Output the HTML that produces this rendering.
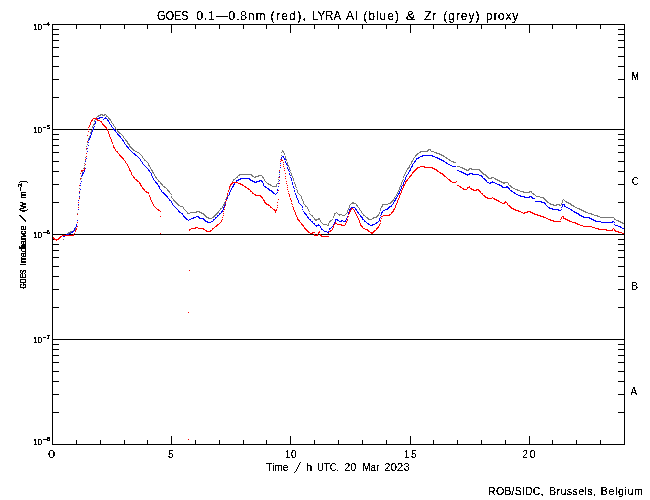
<!DOCTYPE html><html><head><meta charset="utf-8"><style>html,body{margin:0;padding:0;background:#fff;width:650px;height:500px;overflow:hidden}svg{display:block}text{font-family:"Liberation Sans",Arial,sans-serif;fill:#000}</style></head><body>
<svg width="650" height="500" viewBox="0 0 650 500">
<defs><filter id="k" filterUnits="userSpaceOnUse" x="0" y="0" width="650" height="500" color-interpolation-filters="sRGB"><feComponentTransfer><feFuncA type="discrete" tableValues="0 0 0 0 0 0 0 1 1 1 1 1 1 1 1 1 1 1 1 1"/></feComponentTransfer></filter><filter id="k2" filterUnits="userSpaceOnUse" x="0" y="0" width="650" height="500" color-interpolation-filters="sRGB"><feComponentTransfer><feFuncA type="discrete" tableValues="0 0 1 1 1 1 1 1 1 1"/></feComponentTransfer></filter><filter id="k3" filterUnits="userSpaceOnUse" x="0" y="0" width="650" height="500" color-interpolation-filters="sRGB"><feComponentTransfer><feFuncA type="discrete" tableValues="0 0 0 0 0 0 1 1 1 1"/></feComponentTransfer></filter></defs>
<rect width="650" height="500" fill="#fff"/>
<g stroke="#000" stroke-width="1" shape-rendering="crispEdges" fill="none">
<rect x="52.5" y="24.5" width="572" height="420"/>
<line x1="52" y1="129.5" x2="625" y2="129.5"/>
<line x1="52" y1="234.5" x2="625" y2="234.5"/>
<line x1="52" y1="339.5" x2="625" y2="339.5"/>
<line x1="52" y1="412.5" x2="59" y2="412.5"/>
<line x1="618" y1="412.5" x2="625" y2="412.5"/>
<line x1="52" y1="394.5" x2="59" y2="394.5"/>
<line x1="618" y1="394.5" x2="625" y2="394.5"/>
<line x1="52" y1="381.5" x2="59" y2="381.5"/>
<line x1="618" y1="381.5" x2="625" y2="381.5"/>
<line x1="52" y1="371.5" x2="59" y2="371.5"/>
<line x1="618" y1="371.5" x2="625" y2="371.5"/>
<line x1="52" y1="362.5" x2="59" y2="362.5"/>
<line x1="618" y1="362.5" x2="625" y2="362.5"/>
<line x1="52" y1="355.5" x2="59" y2="355.5"/>
<line x1="618" y1="355.5" x2="625" y2="355.5"/>
<line x1="52" y1="349.5" x2="59" y2="349.5"/>
<line x1="618" y1="349.5" x2="625" y2="349.5"/>
<line x1="52" y1="344.5" x2="59" y2="344.5"/>
<line x1="618" y1="344.5" x2="625" y2="344.5"/>
<line x1="52" y1="307.5" x2="59" y2="307.5"/>
<line x1="618" y1="307.5" x2="625" y2="307.5"/>
<line x1="52" y1="289.5" x2="59" y2="289.5"/>
<line x1="618" y1="289.5" x2="625" y2="289.5"/>
<line x1="52" y1="276.5" x2="59" y2="276.5"/>
<line x1="618" y1="276.5" x2="625" y2="276.5"/>
<line x1="52" y1="266.5" x2="59" y2="266.5"/>
<line x1="618" y1="266.5" x2="625" y2="266.5"/>
<line x1="52" y1="257.5" x2="59" y2="257.5"/>
<line x1="618" y1="257.5" x2="625" y2="257.5"/>
<line x1="52" y1="250.5" x2="59" y2="250.5"/>
<line x1="618" y1="250.5" x2="625" y2="250.5"/>
<line x1="52" y1="244.5" x2="59" y2="244.5"/>
<line x1="618" y1="244.5" x2="625" y2="244.5"/>
<line x1="52" y1="239.5" x2="59" y2="239.5"/>
<line x1="618" y1="239.5" x2="625" y2="239.5"/>
<line x1="52" y1="202.5" x2="59" y2="202.5"/>
<line x1="618" y1="202.5" x2="625" y2="202.5"/>
<line x1="52" y1="184.5" x2="59" y2="184.5"/>
<line x1="618" y1="184.5" x2="625" y2="184.5"/>
<line x1="52" y1="171.5" x2="59" y2="171.5"/>
<line x1="618" y1="171.5" x2="625" y2="171.5"/>
<line x1="52" y1="161.5" x2="59" y2="161.5"/>
<line x1="618" y1="161.5" x2="625" y2="161.5"/>
<line x1="52" y1="152.5" x2="59" y2="152.5"/>
<line x1="618" y1="152.5" x2="625" y2="152.5"/>
<line x1="52" y1="145.5" x2="59" y2="145.5"/>
<line x1="618" y1="145.5" x2="625" y2="145.5"/>
<line x1="52" y1="139.5" x2="59" y2="139.5"/>
<line x1="618" y1="139.5" x2="625" y2="139.5"/>
<line x1="52" y1="134.5" x2="59" y2="134.5"/>
<line x1="618" y1="134.5" x2="625" y2="134.5"/>
<line x1="52" y1="97.5" x2="59" y2="97.5"/>
<line x1="618" y1="97.5" x2="625" y2="97.5"/>
<line x1="52" y1="79.5" x2="59" y2="79.5"/>
<line x1="618" y1="79.5" x2="625" y2="79.5"/>
<line x1="52" y1="66.5" x2="59" y2="66.5"/>
<line x1="618" y1="66.5" x2="625" y2="66.5"/>
<line x1="52" y1="56.5" x2="59" y2="56.5"/>
<line x1="618" y1="56.5" x2="625" y2="56.5"/>
<line x1="52" y1="47.5" x2="59" y2="47.5"/>
<line x1="618" y1="47.5" x2="625" y2="47.5"/>
<line x1="52" y1="40.5" x2="59" y2="40.5"/>
<line x1="618" y1="40.5" x2="625" y2="40.5"/>
<line x1="52" y1="34.5" x2="59" y2="34.5"/>
<line x1="618" y1="34.5" x2="625" y2="34.5"/>
<line x1="52" y1="29.5" x2="59" y2="29.5"/>
<line x1="618" y1="29.5" x2="625" y2="29.5"/>
<line x1="76.5" y1="445" x2="76.5" y2="440"/>
<line x1="76.5" y1="24" x2="76.5" y2="29"/>
<line x1="100.5" y1="445" x2="100.5" y2="440"/>
<line x1="100.5" y1="24" x2="100.5" y2="29"/>
<line x1="124.5" y1="445" x2="124.5" y2="440"/>
<line x1="124.5" y1="24" x2="124.5" y2="29"/>
<line x1="147.5" y1="445" x2="147.5" y2="440"/>
<line x1="147.5" y1="24" x2="147.5" y2="29"/>
<line x1="171.5" y1="445" x2="171.5" y2="436"/>
<line x1="171.5" y1="24" x2="171.5" y2="33"/>
<line x1="195.5" y1="445" x2="195.5" y2="440"/>
<line x1="195.5" y1="24" x2="195.5" y2="29"/>
<line x1="219.5" y1="445" x2="219.5" y2="440"/>
<line x1="219.5" y1="24" x2="219.5" y2="29"/>
<line x1="243.5" y1="445" x2="243.5" y2="440"/>
<line x1="243.5" y1="24" x2="243.5" y2="29"/>
<line x1="266.5" y1="445" x2="266.5" y2="440"/>
<line x1="266.5" y1="24" x2="266.5" y2="29"/>
<line x1="290.5" y1="445" x2="290.5" y2="436"/>
<line x1="290.5" y1="24" x2="290.5" y2="33"/>
<line x1="314.5" y1="445" x2="314.5" y2="440"/>
<line x1="314.5" y1="24" x2="314.5" y2="29"/>
<line x1="338.5" y1="445" x2="338.5" y2="440"/>
<line x1="338.5" y1="24" x2="338.5" y2="29"/>
<line x1="362.5" y1="445" x2="362.5" y2="440"/>
<line x1="362.5" y1="24" x2="362.5" y2="29"/>
<line x1="386.5" y1="445" x2="386.5" y2="440"/>
<line x1="386.5" y1="24" x2="386.5" y2="29"/>
<line x1="410.5" y1="445" x2="410.5" y2="436"/>
<line x1="410.5" y1="24" x2="410.5" y2="33"/>
<line x1="433.5" y1="445" x2="433.5" y2="440"/>
<line x1="433.5" y1="24" x2="433.5" y2="29"/>
<line x1="457.5" y1="445" x2="457.5" y2="440"/>
<line x1="457.5" y1="24" x2="457.5" y2="29"/>
<line x1="481.5" y1="445" x2="481.5" y2="440"/>
<line x1="481.5" y1="24" x2="481.5" y2="29"/>
<line x1="505.5" y1="445" x2="505.5" y2="440"/>
<line x1="505.5" y1="24" x2="505.5" y2="29"/>
<line x1="529.5" y1="445" x2="529.5" y2="436"/>
<line x1="529.5" y1="24" x2="529.5" y2="33"/>
<line x1="552.5" y1="445" x2="552.5" y2="440"/>
<line x1="552.5" y1="24" x2="552.5" y2="29"/>
<line x1="576.5" y1="445" x2="576.5" y2="440"/>
<line x1="576.5" y1="24" x2="576.5" y2="29"/>
<line x1="600.5" y1="445" x2="600.5" y2="440"/>
<line x1="600.5" y1="24" x2="600.5" y2="29"/>
</g>
<path d="M63 239h1v1h-1zM67 233h1v1h-1zM68 232h1v1h-1zM68 233h1v1h-1zM69 232h1v1h-1zM70 231h1v1h-1zM70 232h1v1h-1zM71 231h1v1h-1zM72 231h1v1h-1zM73 230h1v1h-1zM73 231h1v1h-1zM74 229h1v1h-1zM74 230h1v1h-1zM75 227h1v1h-1zM75 228h1v1h-1zM75 229h1v1h-1zM76 224h1v1h-1zM76 225h1v1h-1zM77 213h1v1h-1zM77 220h1v1h-1zM77 222h1v1h-1zM78 200h1v1h-1zM78 205h1v1h-1zM79 188h1v1h-1zM79 193h1v1h-1zM79 197h1v1h-1zM80 179h1v1h-1zM80 183h1v1h-1zM81 175h1v1h-1zM81 176h1v1h-1zM81 178h1v1h-1zM82 171h1v1h-1zM82 172h1v1h-1zM82 174h1v1h-1zM83 168h1v1h-1zM83 170h1v1h-1zM84 163h1v1h-1zM84 165h1v1h-1zM84 167h1v1h-1zM85 157h1v1h-1zM85 160h1v1h-1zM86 146h1v1h-1zM86 149h1v1h-1zM86 153h1v1h-1zM87 142h1v1h-1zM87 144h1v1h-1zM88 138h1v1h-1zM88 139h1v1h-1zM88 140h1v1h-1zM89 136h1v1h-1zM89 137h1v1h-1zM90 132h1v1h-1zM90 133h1v1h-1zM90 135h1v1h-1zM91 130h1v1h-1zM91 131h1v1h-1zM92 126h1v1h-1zM92 127h1v1h-1zM92 129h1v1h-1zM93 124h1v1h-1zM93 125h1v1h-1zM94 120h1v1h-1zM94 121h1v1h-1zM94 123h1v1h-1zM95 119h1v1h-1zM96 117h1v1h-1zM96 118h1v1h-1zM97 116h1v1h-1zM98 115h1v1h-1zM98 116h1v1h-1zM99 115h1v1h-1zM100 114h1v1h-1zM100 115h1v1h-1zM101 114h1v1h-1zM102 114h1v1h-1zM102 115h1v1h-1zM103 115h1v1h-1zM104 114h1v1h-1zM104 115h1v1h-1zM105 114h1v1h-1zM106 115h1v1h-1zM106 116h1v1h-1zM107 116h1v1h-1zM108 117h1v1h-1zM108 118h1v1h-1zM109 118h1v1h-1zM109 119h1v1h-1zM110 119h1v1h-1zM110 120h1v1h-1zM111 121h1v1h-1zM111 122h1v1h-1zM112 123h1v1h-1zM113 124h1v1h-1zM113 125h1v1h-1zM114 126h1v1h-1zM115 127h1v1h-1zM115 128h1v1h-1zM116 129h1v1h-1zM117 130h1v1h-1zM117 131h1v1h-1zM118 131h1v1h-1zM118 132h1v1h-1zM119 132h1v1h-1zM119 133h1v1h-1zM120 133h1v1h-1zM121 134h1v1h-1zM122 135h1v1h-1zM123 136h1v1h-1zM123 137h1v1h-1zM124 138h1v1h-1zM125 139h1v1h-1zM125 140h1v1h-1zM126 140h1v1h-1zM126 141h1v1h-1zM127 141h1v1h-1zM127 142h1v1h-1zM127 143h1v1h-1zM128 143h1v1h-1zM128 144h1v1h-1zM129 144h1v1h-1zM129 145h1v1h-1zM129 146h1v1h-1zM130 146h1v1h-1zM130 147h1v1h-1zM131 147h1v1h-1zM131 148h1v1h-1zM132 148h1v1h-1zM132 149h1v1h-1zM133 149h1v1h-1zM133 150h1v1h-1zM134 150h1v1h-1zM135 151h1v1h-1zM136 151h1v1h-1zM137 152h1v1h-1zM138 152h1v1h-1zM139 153h1v1h-1zM140 154h1v1h-1zM141 155h1v1h-1zM142 156h1v1h-1zM142 157h1v1h-1zM143 158h1v1h-1zM144 159h1v1h-1zM144 160h1v1h-1zM145 160h1v1h-1zM146 161h1v1h-1zM147 162h1v1h-1zM148 163h1v1h-1zM148 164h1v1h-1zM148 165h1v1h-1zM149 165h1v1h-1zM149 166h1v1h-1zM150 167h1v1h-1zM150 168h1v1h-1zM151 169h1v1h-1zM151 170h1v1h-1zM152 170h1v1h-1zM152 171h1v1h-1zM152 172h1v1h-1zM153 172h1v1h-1zM153 173h1v1h-1zM154 174h1v1h-1zM154 175h1v1h-1zM155 176h1v1h-1zM155 177h1v1h-1zM156 177h1v1h-1zM156 178h1v1h-1zM157 179h1v1h-1zM158 180h1v1h-1zM158 181h1v1h-1zM159 181h1v1h-1zM160 182h1v1h-1zM160 183h1v1h-1zM161 183h1v1h-1zM161 184h1v1h-1zM162 184h1v1h-1zM162 185h1v1h-1zM163 186h1v1h-1zM164 186h1v1h-1zM164 187h1v1h-1zM165 187h1v1h-1zM166 188h1v1h-1zM167 189h1v1h-1zM167 190h1v1h-1zM168 190h1v1h-1zM168 191h1v1h-1zM169 191h1v1h-1zM169 192h1v1h-1zM170 193h1v1h-1zM171 194h1v1h-1zM171 196h1v1h-1zM171 197h1v1h-1zM172 198h1v1h-1zM173 199h1v1h-1zM173 200h1v1h-1zM174 200h1v1h-1zM174 201h1v1h-1zM175 201h1v1h-1zM175 202h1v1h-1zM176 202h1v1h-1zM176 203h1v1h-1zM177 203h1v1h-1zM177 204h1v1h-1zM178 204h1v1h-1zM178 205h1v1h-1zM179 205h1v1h-1zM180 206h1v1h-1zM181 206h1v1h-1zM182 206h1v1h-1zM183 207h1v1h-1zM183 208h1v1h-1zM184 209h1v1h-1zM185 210h1v1h-1zM186 211h1v1h-1zM187 212h1v1h-1zM187 213h1v1h-1zM188 213h1v1h-1zM189 213h1v1h-1zM190 212h1v1h-1zM191 212h1v1h-1zM192 212h1v1h-1zM193 212h1v1h-1zM194 212h1v1h-1zM195 212h1v1h-1zM196 211h1v1h-1zM196 212h1v1h-1zM197 211h1v1h-1zM198 211h1v1h-1zM199 211h1v1h-1zM199 212h1v1h-1zM200 212h1v1h-1zM201 212h1v1h-1zM201 213h1v1h-1zM202 213h1v1h-1zM203 213h1v1h-1zM203 214h1v1h-1zM204 214h1v1h-1zM204 215h1v1h-1zM205 215h1v1h-1zM205 216h1v1h-1zM206 216h1v1h-1zM206 217h1v1h-1zM207 217h1v1h-1zM208 217h1v1h-1zM208 218h1v1h-1zM209 218h1v1h-1zM210 218h1v1h-1zM211 218h1v1h-1zM212 217h1v1h-1zM213 216h1v1h-1zM213 217h1v1h-1zM214 215h1v1h-1zM214 216h1v1h-1zM215 214h1v1h-1zM215 215h1v1h-1zM216 213h1v1h-1zM216 214h1v1h-1zM217 212h1v1h-1zM217 213h1v1h-1zM218 211h1v1h-1zM218 212h1v1h-1zM219 210h1v1h-1zM220 208h1v1h-1zM220 209h1v1h-1zM221 208h1v1h-1zM222 206h1v1h-1zM222 207h1v1h-1zM223 204h1v1h-1zM223 205h1v1h-1zM224 202h1v1h-1zM224 203h1v1h-1zM224 204h1v1h-1zM225 199h1v1h-1zM225 201h1v1h-1zM226 197h1v1h-1zM226 198h1v1h-1zM227 193h1v1h-1zM227 194h1v1h-1zM227 195h1v1h-1zM228 190h1v1h-1zM228 191h1v1h-1zM229 187h1v1h-1zM229 188h1v1h-1zM229 189h1v1h-1zM230 185h1v1h-1zM230 186h1v1h-1zM231 183h1v1h-1zM231 184h1v1h-1zM232 181h1v1h-1zM232 182h1v1h-1zM233 179h1v1h-1zM233 180h1v1h-1zM234 179h1v1h-1zM235 178h1v1h-1zM236 177h1v1h-1zM237 176h1v1h-1zM237 177h1v1h-1zM238 175h1v1h-1zM239 174h1v1h-1zM239 175h1v1h-1zM240 174h1v1h-1zM241 174h1v1h-1zM242 174h1v1h-1zM243 174h1v1h-1zM244 174h1v1h-1zM245 174h1v1h-1zM246 174h1v1h-1zM247 174h1v1h-1zM248 174h1v1h-1zM249 174h1v1h-1zM250 174h1v1h-1zM251 174h1v1h-1zM251 175h1v1h-1zM252 175h1v1h-1zM252 176h1v1h-1zM253 176h1v1h-1zM254 177h1v1h-1zM255 176h1v1h-1zM255 177h1v1h-1zM256 176h1v1h-1zM257 176h1v1h-1zM258 175h1v1h-1zM258 176h1v1h-1zM259 175h1v1h-1zM260 175h1v1h-1zM261 175h1v1h-1zM262 176h1v1h-1zM262 177h1v1h-1zM263 177h1v1h-1zM263 178h1v1h-1zM264 179h1v1h-1zM264 180h1v1h-1zM265 181h1v1h-1zM266 182h1v1h-1zM267 183h1v1h-1zM268 183h1v1h-1zM268 184h1v1h-1zM269 184h1v1h-1zM270 184h1v1h-1zM270 185h1v1h-1zM271 185h1v1h-1zM272 186h1v1h-1zM273 186h1v1h-1zM274 186h1v1h-1zM275 186h1v1h-1zM276 184h1v1h-1zM276 185h1v1h-1zM276 186h1v1h-1zM277 183h1v1h-1zM278 177h1v1h-1zM278 179h1v1h-1zM278 181h1v1h-1zM279 171h1v1h-1zM279 174h1v1h-1zM280 159h1v1h-1zM280 163h1v1h-1zM280 167h1v1h-1zM281 152h1v1h-1zM281 155h1v1h-1zM282 150h1v1h-1zM282 151h1v1h-1zM283 151h1v1h-1zM283 152h1v1h-1zM284 153h1v1h-1zM284 154h1v1h-1zM285 156h1v1h-1zM285 157h1v1h-1zM285 158h1v1h-1zM286 159h1v1h-1zM286 160h1v1h-1zM287 162h1v1h-1zM287 163h1v1h-1zM287 164h1v1h-1zM288 165h1v1h-1zM288 166h1v1h-1zM289 167h1v1h-1zM289 168h1v1h-1zM289 169h1v1h-1zM290 170h1v1h-1zM290 172h1v1h-1zM291 173h1v1h-1zM291 174h1v1h-1zM291 175h1v1h-1zM292 176h1v1h-1zM292 177h1v1h-1zM293 178h1v1h-1zM293 179h1v1h-1zM293 180h1v1h-1zM294 182h1v1h-1zM294 183h1v1h-1zM295 184h1v1h-1zM295 185h1v1h-1zM295 186h1v1h-1zM296 187h1v1h-1zM296 189h1v1h-1zM297 190h1v1h-1zM297 191h1v1h-1zM297 192h1v1h-1zM298 193h1v1h-1zM299 194h1v1h-1zM300 195h1v1h-1zM301 196h1v1h-1zM301 197h1v1h-1zM301 198h1v1h-1zM302 199h1v1h-1zM302 200h1v1h-1zM303 201h1v1h-1zM303 202h1v1h-1zM303 203h1v1h-1zM304 204h1v1h-1zM305 205h1v1h-1zM305 206h1v1h-1zM306 206h1v1h-1zM307 207h1v1h-1zM307 208h1v1h-1zM308 209h1v1h-1zM308 210h1v1h-1zM309 211h1v1h-1zM309 213h1v1h-1zM310 214h1v1h-1zM311 215h1v1h-1zM312 215h1v1h-1zM312 216h1v1h-1zM313 217h1v1h-1zM314 218h1v1h-1zM314 219h1v1h-1zM315 219h1v1h-1zM315 220h1v1h-1zM316 219h1v1h-1zM316 220h1v1h-1zM317 219h1v1h-1zM318 218h1v1h-1zM318 219h1v1h-1zM319 218h1v1h-1zM319 219h1v1h-1zM320 220h1v1h-1zM320 221h1v1h-1zM321 222h1v1h-1zM322 223h1v1h-1zM323 224h1v1h-1zM324 224h1v1h-1zM325 224h1v1h-1zM326 224h1v1h-1zM327 225h1v1h-1zM328 223h1v1h-1zM328 224h1v1h-1zM328 225h1v1h-1zM329 221h1v1h-1zM329 222h1v1h-1zM330 220h1v1h-1zM330 221h1v1h-1zM331 220h1v1h-1zM332 219h1v1h-1zM333 216h1v1h-1zM333 217h1v1h-1zM334 213h1v1h-1zM334 214h1v1h-1zM334 215h1v1h-1zM335 213h1v1h-1zM336 212h1v1h-1zM337 213h1v1h-1zM338 214h1v1h-1zM339 214h1v1h-1zM339 215h1v1h-1zM340 214h1v1h-1zM341 214h1v1h-1zM342 215h1v1h-1zM343 215h1v1h-1zM344 215h1v1h-1zM345 214h1v1h-1zM346 213h1v1h-1zM347 210h1v1h-1zM347 211h1v1h-1zM347 212h1v1h-1zM348 208h1v1h-1zM348 209h1v1h-1zM349 205h1v1h-1zM349 206h1v1h-1zM349 207h1v1h-1zM350 204h1v1h-1zM351 203h1v1h-1zM352 202h1v1h-1zM352 203h1v1h-1zM353 202h1v1h-1zM353 203h1v1h-1zM354 203h1v1h-1zM355 203h1v1h-1zM356 204h1v1h-1zM356 205h1v1h-1zM357 205h1v1h-1zM357 206h1v1h-1zM358 207h1v1h-1zM359 208h1v1h-1zM359 209h1v1h-1zM360 210h1v1h-1zM361 211h1v1h-1zM361 212h1v1h-1zM362 213h1v1h-1zM363 214h1v1h-1zM363 215h1v1h-1zM364 215h1v1h-1zM365 216h1v1h-1zM366 217h1v1h-1zM367 217h1v1h-1zM367 218h1v1h-1zM368 218h1v1h-1zM368 219h1v1h-1zM369 219h1v1h-1zM370 219h1v1h-1zM371 219h1v1h-1zM372 218h1v1h-1zM373 217h1v1h-1zM373 218h1v1h-1zM374 217h1v1h-1zM375 217h1v1h-1zM376 216h1v1h-1zM376 217h1v1h-1zM377 215h1v1h-1zM377 216h1v1h-1zM378 214h1v1h-1zM378 215h1v1h-1zM379 212h1v1h-1zM379 213h1v1h-1zM380 208h1v1h-1zM380 209h1v1h-1zM380 210h1v1h-1zM381 206h1v1h-1zM381 207h1v1h-1zM382 204h1v1h-1zM382 205h1v1h-1zM382 206h1v1h-1zM383 204h1v1h-1zM384 204h1v1h-1zM385 204h1v1h-1zM386 204h1v1h-1zM387 204h1v1h-1zM388 203h1v1h-1zM389 203h1v1h-1zM390 202h1v1h-1zM390 203h1v1h-1zM391 201h1v1h-1zM391 202h1v1h-1zM392 200h1v1h-1zM392 201h1v1h-1zM393 199h1v1h-1zM393 200h1v1h-1zM394 197h1v1h-1zM394 198h1v1h-1zM395 196h1v1h-1zM396 194h1v1h-1zM396 195h1v1h-1zM397 192h1v1h-1zM397 193h1v1h-1zM398 190h1v1h-1zM398 191h1v1h-1zM399 187h1v1h-1zM399 188h1v1h-1zM399 189h1v1h-1zM400 185h1v1h-1zM400 186h1v1h-1zM401 182h1v1h-1zM401 183h1v1h-1zM401 184h1v1h-1zM402 180h1v1h-1zM402 181h1v1h-1zM403 176h1v1h-1zM403 177h1v1h-1zM403 179h1v1h-1zM404 174h1v1h-1zM404 175h1v1h-1zM405 172h1v1h-1zM405 173h1v1h-1zM406 170h1v1h-1zM406 171h1v1h-1zM407 168h1v1h-1zM407 169h1v1h-1zM408 167h1v1h-1zM408 168h1v1h-1zM409 165h1v1h-1zM409 166h1v1h-1zM409 167h1v1h-1zM410 164h1v1h-1zM411 161h1v1h-1zM411 162h1v1h-1zM411 163h1v1h-1zM412 160h1v1h-1zM412 161h1v1h-1zM413 158h1v1h-1zM413 159h1v1h-1zM414 157h1v1h-1zM415 155h1v1h-1zM415 156h1v1h-1zM416 154h1v1h-1zM416 155h1v1h-1zM417 153h1v1h-1zM417 154h1v1h-1zM418 153h1v1h-1zM419 152h1v1h-1zM420 151h1v1h-1zM420 152h1v1h-1zM421 151h1v1h-1zM422 151h1v1h-1zM423 151h1v1h-1zM424 151h1v1h-1zM425 151h1v1h-1zM426 151h1v1h-1zM427 150h1v1h-1zM427 151h1v1h-1zM428 149h1v1h-1zM428 150h1v1h-1zM429 149h1v1h-1zM430 149h1v1h-1zM430 150h1v1h-1zM431 151h1v1h-1zM432 151h1v1h-1zM433 151h1v1h-1zM434 152h1v1h-1zM435 152h1v1h-1zM436 152h1v1h-1zM436 153h1v1h-1zM437 153h1v1h-1zM438 153h1v1h-1zM439 153h1v1h-1zM439 154h1v1h-1zM440 154h1v1h-1zM441 154h1v1h-1zM441 155h1v1h-1zM442 155h1v1h-1zM443 155h1v1h-1zM443 156h1v1h-1zM444 156h1v1h-1zM445 157h1v1h-1zM446 157h1v1h-1zM446 158h1v1h-1zM447 158h1v1h-1zM448 159h1v1h-1zM449 159h1v1h-1zM449 160h1v1h-1zM450 160h1v1h-1zM451 161h1v1h-1zM452 161h1v1h-1zM453 161h1v1h-1zM453 162h1v1h-1zM454 162h1v1h-1zM455 162h1v1h-1zM457 166h1v1h-1zM458 166h1v1h-1zM459 166h1v1h-1zM460 167h1v1h-1zM461 167h1v1h-1zM462 167h1v1h-1zM462 168h1v1h-1zM463 168h1v1h-1zM464 168h1v1h-1zM464 169h1v1h-1zM465 169h1v1h-1zM466 169h1v1h-1zM466 170h1v1h-1zM467 170h1v1h-1zM468 169h1v1h-1zM468 170h1v1h-1zM469 168h1v1h-1zM469 169h1v1h-1zM470 168h1v1h-1zM471 168h1v1h-1zM471 169h1v1h-1zM472 169h1v1h-1zM473 169h1v1h-1zM474 169h1v1h-1zM475 169h1v1h-1zM476 169h1v1h-1zM477 169h1v1h-1zM478 169h1v1h-1zM479 169h1v1h-1zM479 170h1v1h-1zM480 170h1v1h-1zM480 171h1v1h-1zM481 171h1v1h-1zM481 172h1v1h-1zM482 172h1v1h-1zM482 173h1v1h-1zM483 173h1v1h-1zM483 174h1v1h-1zM484 174h1v1h-1zM485 174h1v1h-1zM485 175h1v1h-1zM486 175h1v1h-1zM486 176h1v1h-1zM487 176h1v1h-1zM487 177h1v1h-1zM488 177h1v1h-1zM488 178h1v1h-1zM489 178h1v1h-1zM490 178h1v1h-1zM491 177h1v1h-1zM491 178h1v1h-1zM492 177h1v1h-1zM493 177h1v1h-1zM494 178h1v1h-1zM495 178h1v1h-1zM495 179h1v1h-1zM496 179h1v1h-1zM497 179h1v1h-1zM497 180h1v1h-1zM498 180h1v1h-1zM499 180h1v1h-1zM499 181h1v1h-1zM500 181h1v1h-1zM501 181h1v1h-1zM501 182h1v1h-1zM502 182h1v1h-1zM503 182h1v1h-1zM503 183h1v1h-1zM504 182h1v1h-1zM504 183h1v1h-1zM505 182h1v1h-1zM506 182h1v1h-1zM507 182h1v1h-1zM508 183h1v1h-1zM508 184h1v1h-1zM509 185h1v1h-1zM510 185h1v1h-1zM510 186h1v1h-1zM511 186h1v1h-1zM511 187h1v1h-1zM512 187h1v1h-1zM513 188h1v1h-1zM514 188h1v1h-1zM515 189h1v1h-1zM516 189h1v1h-1zM517 189h1v1h-1zM517 190h1v1h-1zM518 190h1v1h-1zM519 190h1v1h-1zM520 191h1v1h-1zM521 191h1v1h-1zM522 191h1v1h-1zM523 191h1v1h-1zM523 192h1v1h-1zM524 192h1v1h-1zM525 192h1v1h-1zM526 192h1v1h-1zM527 192h1v1h-1zM528 192h1v1h-1zM529 191h1v1h-1zM529 192h1v1h-1zM530 191h1v1h-1zM531 191h1v1h-1zM531 192h1v1h-1zM532 193h1v1h-1zM533 193h1v1h-1zM533 194h1v1h-1zM534 194h1v1h-1zM535 195h1v1h-1zM536 196h1v1h-1zM537 196h1v1h-1zM538 196h1v1h-1zM539 196h1v1h-1zM540 197h1v1h-1zM541 197h1v1h-1zM542 197h1v1h-1zM543 197h1v1h-1zM543 198h1v1h-1zM544 198h1v1h-1zM544 199h1v1h-1zM545 199h1v1h-1zM545 200h1v1h-1zM546 200h1v1h-1zM546 201h1v1h-1zM547 201h1v1h-1zM547 202h1v1h-1zM548 202h1v1h-1zM549 203h1v1h-1zM550 203h1v1h-1zM550 204h1v1h-1zM551 204h1v1h-1zM552 204h1v1h-1zM553 204h1v1h-1zM553 205h1v1h-1zM554 205h1v1h-1zM555 205h1v1h-1zM556 204h1v1h-1zM556 205h1v1h-1zM557 204h1v1h-1zM558 204h1v1h-1zM559 204h1v1h-1zM559 205h1v1h-1zM560 205h1v1h-1zM561 203h1v1h-1zM561 204h1v1h-1zM562 200h1v1h-1zM562 201h1v1h-1zM562 202h1v1h-1zM563 199h1v1h-1zM564 200h1v1h-1zM565 201h1v1h-1zM566 201h1v1h-1zM566 202h1v1h-1zM567 202h1v1h-1zM568 202h1v1h-1zM568 203h1v1h-1zM569 203h1v1h-1zM570 203h1v1h-1zM570 204h1v1h-1zM571 204h1v1h-1zM571 205h1v1h-1zM572 205h1v1h-1zM573 205h1v1h-1zM573 206h1v1h-1zM574 206h1v1h-1zM575 207h1v1h-1zM576 207h1v1h-1zM577 208h1v1h-1zM578 208h1v1h-1zM579 208h1v1h-1zM579 209h1v1h-1zM580 209h1v1h-1zM581 209h1v1h-1zM581 210h1v1h-1zM582 210h1v1h-1zM583 210h1v1h-1zM583 211h1v1h-1zM584 211h1v1h-1zM585 211h1v1h-1zM585 212h1v1h-1zM586 212h1v1h-1zM587 212h1v1h-1zM588 213h1v1h-1zM589 213h1v1h-1zM590 213h1v1h-1zM591 213h1v1h-1zM591 214h1v1h-1zM592 214h1v1h-1zM593 214h1v1h-1zM594 215h1v1h-1zM595 215h1v1h-1zM596 215h1v1h-1zM597 215h1v1h-1zM597 216h1v1h-1zM598 216h1v1h-1zM599 216h1v1h-1zM600 217h1v1h-1zM601 217h1v1h-1zM602 217h1v1h-1zM603 217h1v1h-1zM604 217h1v1h-1zM605 217h1v1h-1zM606 217h1v1h-1zM607 217h1v1h-1zM608 217h1v1h-1zM609 217h1v1h-1zM610 217h1v1h-1zM611 217h1v1h-1zM612 217h1v1h-1zM613 217h1v1h-1zM614 218h1v1h-1zM614 219h1v1h-1zM615 219h1v1h-1zM616 220h1v1h-1zM617 220h1v1h-1zM618 220h1v1h-1zM618 221h1v1h-1zM619 221h1v1h-1zM620 221h1v1h-1zM620 222h1v1h-1zM621 222h1v1h-1zM622 222h1v1h-1zM622 223h1v1h-1zM623 223h1v1h-1z" fill="#787878" shape-rendering="crispEdges"/>
<path d="M62 235h1v1h-1zM63 236h1v1h-1zM64 235h1v1h-1zM64 236h1v1h-1zM65 235h1v1h-1zM66 234h1v1h-1zM66 235h1v1h-1zM67 234h1v1h-1zM68 234h1v1h-1zM69 233h1v1h-1zM70 233h1v1h-1zM71 232h1v1h-1zM72 231h1v1h-1zM72 232h1v1h-1zM73 231h1v1h-1zM74 228h1v1h-1zM74 229h1v1h-1zM74 230h1v1h-1zM75 227h1v1h-1zM76 224h1v1h-1zM76 225h1v1h-1zM76 226h1v1h-1zM77 214h1v1h-1zM77 220h1v1h-1zM78 200h1v1h-1zM78 204h1v1h-1zM78 209h1v1h-1zM79 192h1v1h-1zM79 196h1v1h-1zM80 183h1v1h-1zM80 185h1v1h-1zM80 189h1v1h-1zM81 176h1v1h-1zM81 181h1v1h-1zM82 173h1v1h-1zM82 174h1v1h-1zM82 175h1v1h-1zM83 172h1v1h-1zM83 173h1v1h-1zM84 170h1v1h-1zM84 171h1v1h-1zM85 161h1v1h-1zM85 168h1v1h-1zM86 153h1v1h-1zM86 156h1v1h-1zM86 158h1v1h-1zM87 148h1v1h-1zM87 151h1v1h-1zM88 140h1v1h-1zM88 142h1v1h-1zM88 145h1v1h-1zM89 138h1v1h-1zM89 139h1v1h-1zM90 135h1v1h-1zM90 136h1v1h-1zM90 137h1v1h-1zM91 132h1v1h-1zM91 133h1v1h-1zM91 134h1v1h-1zM92 130h1v1h-1zM92 131h1v1h-1zM93 127h1v1h-1zM93 128h1v1h-1zM93 129h1v1h-1zM94 124h1v1h-1zM94 126h1v1h-1zM95 121h1v1h-1zM95 122h1v1h-1zM95 123h1v1h-1zM96 119h1v1h-1zM97 118h1v1h-1zM97 119h1v1h-1zM98 118h1v1h-1zM99 117h1v1h-1zM99 118h1v1h-1zM100 117h1v1h-1zM101 117h1v1h-1zM102 117h1v1h-1zM103 119h1v1h-1zM104 118h1v1h-1zM105 117h1v1h-1zM105 118h1v1h-1zM106 118h1v1h-1zM107 119h1v1h-1zM107 120h1v1h-1zM108 120h1v1h-1zM108 121h1v1h-1zM109 122h1v1h-1zM109 123h1v1h-1zM110 124h1v1h-1zM111 125h1v1h-1zM111 126h1v1h-1zM112 127h1v1h-1zM113 128h1v1h-1zM113 129h1v1h-1zM114 129h1v1h-1zM114 130h1v1h-1zM115 130h1v1h-1zM115 131h1v1h-1zM116 132h1v1h-1zM117 133h1v1h-1zM117 134h1v1h-1zM118 134h1v1h-1zM118 135h1v1h-1zM119 135h1v1h-1zM119 136h1v1h-1zM120 136h1v1h-1zM120 137h1v1h-1zM121 138h1v1h-1zM122 139h1v1h-1zM122 140h1v1h-1zM123 140h1v1h-1zM123 141h1v1h-1zM124 142h1v1h-1zM124 143h1v1h-1zM125 144h1v1h-1zM126 145h1v1h-1zM126 146h1v1h-1zM127 146h1v1h-1zM127 147h1v1h-1zM128 147h1v1h-1zM128 148h1v1h-1zM129 149h1v1h-1zM130 150h1v1h-1zM131 151h1v1h-1zM132 152h1v1h-1zM133 153h1v1h-1zM134 153h1v1h-1zM134 154h1v1h-1zM135 154h1v1h-1zM135 155h1v1h-1zM136 155h1v1h-1zM137 156h1v1h-1zM138 157h1v1h-1zM139 158h1v1h-1zM140 159h1v1h-1zM140 160h1v1h-1zM141 161h1v1h-1zM142 162h1v1h-1zM142 163h1v1h-1zM143 164h1v1h-1zM144 165h1v1h-1zM145 166h1v1h-1zM146 167h1v1h-1zM147 168h1v1h-1zM148 169h1v1h-1zM148 170h1v1h-1zM149 170h1v1h-1zM149 171h1v1h-1zM150 172h1v1h-1zM151 173h1v1h-1zM151 174h1v1h-1zM151 175h1v1h-1zM152 176h1v1h-1zM152 177h1v1h-1zM153 178h1v1h-1zM153 179h1v1h-1zM154 180h1v1h-1zM155 181h1v1h-1zM155 182h1v1h-1zM156 182h1v1h-1zM156 183h1v1h-1zM157 183h1v1h-1zM157 184h1v1h-1zM158 185h1v1h-1zM158 186h1v1h-1zM159 186h1v1h-1zM159 187h1v1h-1zM159 188h1v1h-1zM160 189h1v1h-1zM161 190h1v1h-1zM161 191h1v1h-1zM162 192h1v1h-1zM163 192h1v1h-1zM163 193h1v1h-1zM164 193h1v1h-1zM164 194h1v1h-1zM165 194h1v1h-1zM165 195h1v1h-1zM166 195h1v1h-1zM166 196h1v1h-1zM167 196h1v1h-1zM167 197h1v1h-1zM168 198h1v1h-1zM169 199h1v1h-1zM169 200h1v1h-1zM170 200h1v1h-1zM171 201h1v1h-1zM171 202h1v1h-1zM172 203h1v1h-1zM172 204h1v1h-1zM173 205h1v1h-1zM174 206h1v1h-1zM175 207h1v1h-1zM176 208h1v1h-1zM177 209h1v1h-1zM178 210h1v1h-1zM178 211h1v1h-1zM179 211h1v1h-1zM179 212h1v1h-1zM180 212h1v1h-1zM181 213h1v1h-1zM182 213h1v1h-1zM182 214h1v1h-1zM183 215h1v1h-1zM183 216h1v1h-1zM184 216h1v1h-1zM184 217h1v1h-1zM185 217h1v1h-1zM185 218h1v1h-1zM186 218h1v1h-1zM186 219h1v1h-1zM187 219h1v1h-1zM188 220h1v1h-1zM189 219h1v1h-1zM190 219h1v1h-1zM191 218h1v1h-1zM192 218h1v1h-1zM193 217h1v1h-1zM193 218h1v1h-1zM194 217h1v1h-1zM195 217h1v1h-1zM196 216h1v1h-1zM197 216h1v1h-1zM198 216h1v1h-1zM198 217h1v1h-1zM199 217h1v1h-1zM199 218h1v1h-1zM200 218h1v1h-1zM201 218h1v1h-1zM202 218h1v1h-1zM203 218h1v1h-1zM203 219h1v1h-1zM204 219h1v1h-1zM204 220h1v1h-1zM205 220h1v1h-1zM205 221h1v1h-1zM206 221h1v1h-1zM207 221h1v1h-1zM207 222h1v1h-1zM208 222h1v1h-1zM209 222h1v1h-1zM210 222h1v1h-1zM211 221h1v1h-1zM212 221h1v1h-1zM213 219h1v1h-1zM213 220h1v1h-1zM214 219h1v1h-1zM215 217h1v1h-1zM215 218h1v1h-1zM216 217h1v1h-1zM217 215h1v1h-1zM217 216h1v1h-1zM218 215h1v1h-1zM219 213h1v1h-1zM219 214h1v1h-1zM220 213h1v1h-1zM221 211h1v1h-1zM221 212h1v1h-1zM222 210h1v1h-1zM222 211h1v1h-1zM223 207h1v1h-1zM223 208h1v1h-1zM223 209h1v1h-1zM224 205h1v1h-1zM224 206h1v1h-1zM225 201h1v1h-1zM225 202h1v1h-1zM225 204h1v1h-1zM226 198h1v1h-1zM226 199h1v1h-1zM227 196h1v1h-1zM227 197h1v1h-1zM227 198h1v1h-1zM228 195h1v1h-1zM229 192h1v1h-1zM229 193h1v1h-1zM229 194h1v1h-1zM230 190h1v1h-1zM230 191h1v1h-1zM231 188h1v1h-1zM231 189h1v1h-1zM232 186h1v1h-1zM232 187h1v1h-1zM233 184h1v1h-1zM233 185h1v1h-1zM233 186h1v1h-1zM234 183h1v1h-1zM234 184h1v1h-1zM235 182h1v1h-1zM236 180h1v1h-1zM236 181h1v1h-1zM237 180h1v1h-1zM238 179h1v1h-1zM238 180h1v1h-1zM239 179h1v1h-1zM240 178h1v1h-1zM240 179h1v1h-1zM241 178h1v1h-1zM242 178h1v1h-1zM243 178h1v1h-1zM244 178h1v1h-1zM245 178h1v1h-1zM246 178h1v1h-1zM247 178h1v1h-1zM248 178h1v1h-1zM249 178h1v1h-1zM249 179h1v1h-1zM250 179h1v1h-1zM250 180h1v1h-1zM251 180h1v1h-1zM252 180h1v1h-1zM252 181h1v1h-1zM253 181h1v1h-1zM254 181h1v1h-1zM254 182h1v1h-1zM255 182h1v1h-1zM256 181h1v1h-1zM256 182h1v1h-1zM257 181h1v1h-1zM258 181h1v1h-1zM259 180h1v1h-1zM259 181h1v1h-1zM260 180h1v1h-1zM261 180h1v1h-1zM261 181h1v1h-1zM262 181h1v1h-1zM262 182h1v1h-1zM263 183h1v1h-1zM263 184h1v1h-1zM263 185h1v1h-1zM264 186h1v1h-1zM265 186h1v1h-1zM265 187h1v1h-1zM266 187h1v1h-1zM267 188h1v1h-1zM268 188h1v1h-1zM268 189h1v1h-1zM269 189h1v1h-1zM269 190h1v1h-1zM270 190h1v1h-1zM271 190h1v1h-1zM271 191h1v1h-1zM272 191h1v1h-1zM272 192h1v1h-1zM273 192h1v1h-1zM273 193h1v1h-1zM274 193h1v1h-1zM275 194h1v1h-1zM276 193h1v1h-1zM277 189h1v1h-1zM277 190h1v1h-1zM277 192h1v1h-1zM278 183h1v1h-1zM278 186h1v1h-1zM279 172h1v1h-1zM279 176h1v1h-1zM279 180h1v1h-1zM280 163h1v1h-1zM280 167h1v1h-1zM281 157h1v1h-1zM281 158h1v1h-1zM281 160h1v1h-1zM282 156h1v1h-1zM283 156h1v1h-1zM283 157h1v1h-1zM284 158h1v1h-1zM284 159h1v1h-1zM285 159h1v1h-1zM285 161h1v1h-1zM285 162h1v1h-1zM286 163h1v1h-1zM286 164h1v1h-1zM287 165h1v1h-1zM287 167h1v1h-1zM287 168h1v1h-1zM288 169h1v1h-1zM288 170h1v1h-1zM289 171h1v1h-1zM289 173h1v1h-1zM289 174h1v1h-1zM290 175h1v1h-1zM290 177h1v1h-1zM291 178h1v1h-1zM291 179h1v1h-1zM291 180h1v1h-1zM292 182h1v1h-1zM292 183h1v1h-1zM292 184h1v1h-1zM293 186h1v1h-1zM293 187h1v1h-1zM294 188h1v1h-1zM294 190h1v1h-1zM294 191h1v1h-1zM295 193h1v1h-1zM295 194h1v1h-1zM296 195h1v1h-1zM296 196h1v1h-1zM296 197h1v1h-1zM297 198h1v1h-1zM297 199h1v1h-1zM298 200h1v1h-1zM298 201h1v1h-1zM298 202h1v1h-1zM299 203h1v1h-1zM300 204h1v1h-1zM301 205h1v1h-1zM302 206h1v1h-1zM302 207h1v1h-1zM302 209h1v1h-1zM303 211h1v1h-1zM304 212h1v1h-1zM304 213h1v1h-1zM305 213h1v1h-1zM305 214h1v1h-1zM306 214h1v1h-1zM306 215h1v1h-1zM307 216h1v1h-1zM307 217h1v1h-1zM308 217h1v1h-1zM308 218h1v1h-1zM309 219h1v1h-1zM310 219h1v1h-1zM310 220h1v1h-1zM311 221h1v1h-1zM312 221h1v1h-1zM312 222h1v1h-1zM313 223h1v1h-1zM314 223h1v1h-1zM314 224h1v1h-1zM315 225h1v1h-1zM316 225h1v1h-1zM316 226h1v1h-1zM317 225h1v1h-1zM318 224h1v1h-1zM318 225h1v1h-1zM319 225h1v1h-1zM320 226h1v1h-1zM320 227h1v1h-1zM321 228h1v1h-1zM321 229h1v1h-1zM322 229h1v1h-1zM323 230h1v1h-1zM324 231h1v1h-1zM325 231h1v1h-1zM326 231h1v1h-1zM327 232h1v1h-1zM328 231h1v1h-1zM328 232h1v1h-1zM329 228h1v1h-1zM329 229h1v1h-1zM330 228h1v1h-1zM331 227h1v1h-1zM332 226h1v1h-1zM333 224h1v1h-1zM333 225h1v1h-1zM334 222h1v1h-1zM334 223h1v1h-1zM335 219h1v1h-1zM335 220h1v1h-1zM335 221h1v1h-1zM336 219h1v1h-1zM337 219h1v1h-1zM337 220h1v1h-1zM338 220h1v1h-1zM339 221h1v1h-1zM340 221h1v1h-1zM341 220h1v1h-1zM341 221h1v1h-1zM342 220h1v1h-1zM343 221h1v1h-1zM344 221h1v1h-1zM345 220h1v1h-1zM345 221h1v1h-1zM346 218h1v1h-1zM346 219h1v1h-1zM347 216h1v1h-1zM347 217h1v1h-1zM348 212h1v1h-1zM348 213h1v1h-1zM348 214h1v1h-1zM349 209h1v1h-1zM349 210h1v1h-1zM350 208h1v1h-1zM350 209h1v1h-1zM351 207h1v1h-1zM351 208h1v1h-1zM352 207h1v1h-1zM353 207h1v1h-1zM354 207h1v1h-1zM355 208h1v1h-1zM355 209h1v1h-1zM356 209h1v1h-1zM356 210h1v1h-1zM357 211h1v1h-1zM357 212h1v1h-1zM358 212h1v1h-1zM358 213h1v1h-1zM359 214h1v1h-1zM360 215h1v1h-1zM360 216h1v1h-1zM361 216h1v1h-1zM361 217h1v1h-1zM362 217h1v1h-1zM362 218h1v1h-1zM362 219h1v1h-1zM363 219h1v1h-1zM364 220h1v1h-1zM364 221h1v1h-1zM365 221h1v1h-1zM366 222h1v1h-1zM367 223h1v1h-1zM368 223h1v1h-1zM368 224h1v1h-1zM369 224h1v1h-1zM370 225h1v1h-1zM371 225h1v1h-1zM372 224h1v1h-1zM372 225h1v1h-1zM373 224h1v1h-1zM374 224h1v1h-1zM375 223h1v1h-1zM376 222h1v1h-1zM376 223h1v1h-1zM377 222h1v1h-1zM378 221h1v1h-1zM379 218h1v1h-1zM379 219h1v1h-1zM379 220h1v1h-1zM380 215h1v1h-1zM380 217h1v1h-1zM381 212h1v1h-1zM381 213h1v1h-1zM381 214h1v1h-1zM382 211h1v1h-1zM382 212h1v1h-1zM383 210h1v1h-1zM384 210h1v1h-1zM385 209h1v1h-1zM386 209h1v1h-1zM387 208h1v1h-1zM387 209h1v1h-1zM388 207h1v1h-1zM388 208h1v1h-1zM389 206h1v1h-1zM389 207h1v1h-1zM390 206h1v1h-1zM391 205h1v1h-1zM391 206h1v1h-1zM392 204h1v1h-1zM393 202h1v1h-1zM393 203h1v1h-1zM394 200h1v1h-1zM394 201h1v1h-1zM395 198h1v1h-1zM395 199h1v1h-1zM395 200h1v1h-1zM396 197h1v1h-1zM396 198h1v1h-1zM397 195h1v1h-1zM397 196h1v1h-1zM398 193h1v1h-1zM398 194h1v1h-1zM399 191h1v1h-1zM399 192h1v1h-1zM399 193h1v1h-1zM400 189h1v1h-1zM400 190h1v1h-1zM401 186h1v1h-1zM401 187h1v1h-1zM401 188h1v1h-1zM402 185h1v1h-1zM403 182h1v1h-1zM403 183h1v1h-1zM403 184h1v1h-1zM404 180h1v1h-1zM404 181h1v1h-1zM405 177h1v1h-1zM405 178h1v1h-1zM405 179h1v1h-1zM406 175h1v1h-1zM406 176h1v1h-1zM407 174h1v1h-1zM408 172h1v1h-1zM408 173h1v1h-1zM409 170h1v1h-1zM409 171h1v1h-1zM410 168h1v1h-1zM410 169h1v1h-1zM410 170h1v1h-1zM411 166h1v1h-1zM411 167h1v1h-1zM412 164h1v1h-1zM412 165h1v1h-1zM412 166h1v1h-1zM413 163h1v1h-1zM414 161h1v1h-1zM414 162h1v1h-1zM415 160h1v1h-1zM415 161h1v1h-1zM416 158h1v1h-1zM416 159h1v1h-1zM417 158h1v1h-1zM418 157h1v1h-1zM418 158h1v1h-1zM419 157h1v1h-1zM420 156h1v1h-1zM421 156h1v1h-1zM422 155h1v1h-1zM422 156h1v1h-1zM423 155h1v1h-1zM424 155h1v1h-1zM425 155h1v1h-1zM426 155h1v1h-1zM427 155h1v1h-1zM428 155h1v1h-1zM429 155h1v1h-1zM430 155h1v1h-1zM431 155h1v1h-1zM432 155h1v1h-1zM432 156h1v1h-1zM433 156h1v1h-1zM434 156h1v1h-1zM435 157h1v1h-1zM436 157h1v1h-1zM437 157h1v1h-1zM437 158h1v1h-1zM438 158h1v1h-1zM439 158h1v1h-1zM439 159h1v1h-1zM440 159h1v1h-1zM441 159h1v1h-1zM441 160h1v1h-1zM442 160h1v1h-1zM443 160h1v1h-1zM443 161h1v1h-1zM444 161h1v1h-1zM445 162h1v1h-1zM446 162h1v1h-1zM446 163h1v1h-1zM447 163h1v1h-1zM448 164h1v1h-1zM449 164h1v1h-1zM450 165h1v1h-1zM451 165h1v1h-1zM452 166h1v1h-1zM453 166h1v1h-1zM454 166h1v1h-1zM455 166h1v1h-1zM457 170h1v1h-1zM458 170h1v1h-1zM459 171h1v1h-1zM460 171h1v1h-1zM461 171h1v1h-1zM461 172h1v1h-1zM462 172h1v1h-1zM463 172h1v1h-1zM463 173h1v1h-1zM464 173h1v1h-1zM465 173h1v1h-1zM465 174h1v1h-1zM466 174h1v1h-1zM467 174h1v1h-1zM467 175h1v1h-1zM468 174h1v1h-1zM469 173h1v1h-1zM469 174h1v1h-1zM470 173h1v1h-1zM471 173h1v1h-1zM472 173h1v1h-1zM472 174h1v1h-1zM473 174h1v1h-1zM474 174h1v1h-1zM475 174h1v1h-1zM476 174h1v1h-1zM477 174h1v1h-1zM478 174h1v1h-1zM479 175h1v1h-1zM480 175h1v1h-1zM481 175h1v1h-1zM481 176h1v1h-1zM482 176h1v1h-1zM482 177h1v1h-1zM483 178h1v1h-1zM484 178h1v1h-1zM484 179h1v1h-1zM485 179h1v1h-1zM485 180h1v1h-1zM486 180h1v1h-1zM486 181h1v1h-1zM487 182h1v1h-1zM488 182h1v1h-1zM489 183h1v1h-1zM490 182h1v1h-1zM490 183h1v1h-1zM491 182h1v1h-1zM492 181h1v1h-1zM492 182h1v1h-1zM493 182h1v1h-1zM494 182h1v1h-1zM495 183h1v1h-1zM496 183h1v1h-1zM497 184h1v1h-1zM498 184h1v1h-1zM499 184h1v1h-1zM499 185h1v1h-1zM500 185h1v1h-1zM501 185h1v1h-1zM501 186h1v1h-1zM502 186h1v1h-1zM502 187h1v1h-1zM503 187h1v1h-1zM504 187h1v1h-1zM505 187h1v1h-1zM506 186h1v1h-1zM506 187h1v1h-1zM507 186h1v1h-1zM507 187h1v1h-1zM508 187h1v1h-1zM508 188h1v1h-1zM509 188h1v1h-1zM509 189h1v1h-1zM510 190h1v1h-1zM511 190h1v1h-1zM511 191h1v1h-1zM512 191h1v1h-1zM513 192h1v1h-1zM514 192h1v1h-1zM514 193h1v1h-1zM515 193h1v1h-1zM516 194h1v1h-1zM517 194h1v1h-1zM518 195h1v1h-1zM519 195h1v1h-1zM520 195h1v1h-1zM520 196h1v1h-1zM521 196h1v1h-1zM522 196h1v1h-1zM523 196h1v1h-1zM524 196h1v1h-1zM524 197h1v1h-1zM525 197h1v1h-1zM526 197h1v1h-1zM527 197h1v1h-1zM528 197h1v1h-1zM529 196h1v1h-1zM529 197h1v1h-1zM530 196h1v1h-1zM531 196h1v1h-1zM531 197h1v1h-1zM532 197h1v1h-1zM532 198h1v1h-1zM533 198h1v1h-1zM534 198h1v1h-1zM535 201h1v1h-1zM536 201h1v1h-1zM537 201h1v1h-1zM538 201h1v1h-1zM539 201h1v1h-1zM540 201h1v1h-1zM541 201h1v1h-1zM541 202h1v1h-1zM542 202h1v1h-1zM543 202h1v1h-1zM544 202h1v1h-1zM544 203h1v1h-1zM545 203h1v1h-1zM545 204h1v1h-1zM546 205h1v1h-1zM547 206h1v1h-1zM548 207h1v1h-1zM549 207h1v1h-1zM549 208h1v1h-1zM550 208h1v1h-1zM551 208h1v1h-1zM552 208h1v1h-1zM552 209h1v1h-1zM553 209h1v1h-1zM554 209h1v1h-1zM555 209h1v1h-1zM556 209h1v1h-1zM557 209h1v1h-1zM558 209h1v1h-1zM558 210h1v1h-1zM559 210h1v1h-1zM560 210h1v1h-1zM561 207h1v1h-1zM561 209h1v1h-1zM562 204h1v1h-1zM562 205h1v1h-1zM562 206h1v1h-1zM563 204h1v1h-1zM564 204h1v1h-1zM564 205h1v1h-1zM564 206h1v1h-1zM565 206h1v1h-1zM566 207h1v1h-1zM567 207h1v1h-1zM568 208h1v1h-1zM569 208h1v1h-1zM570 209h1v1h-1zM571 209h1v1h-1zM571 210h1v1h-1zM572 210h1v1h-1zM573 211h1v1h-1zM574 211h1v1h-1zM574 212h1v1h-1zM575 212h1v1h-1zM576 212h1v1h-1zM576 213h1v1h-1zM577 213h1v1h-1zM578 213h1v1h-1zM578 214h1v1h-1zM579 214h1v1h-1zM579 215h1v1h-1zM580 215h1v1h-1zM581 215h1v1h-1zM581 216h1v1h-1zM582 216h1v1h-1zM583 216h1v1h-1zM583 217h1v1h-1zM584 217h1v1h-1zM585 217h1v1h-1zM586 217h1v1h-1zM587 217h1v1h-1zM588 217h1v1h-1zM589 217h1v1h-1zM589 218h1v1h-1zM590 218h1v1h-1zM591 218h1v1h-1zM591 219h1v1h-1zM592 219h1v1h-1zM593 219h1v1h-1zM593 220h1v1h-1zM594 220h1v1h-1zM595 220h1v1h-1zM595 221h1v1h-1zM596 221h1v1h-1zM597 221h1v1h-1zM598 221h1v1h-1zM599 221h1v1h-1zM600 221h1v1h-1zM601 222h1v1h-1zM602 222h1v1h-1zM603 222h1v1h-1zM604 222h1v1h-1zM605 222h1v1h-1zM606 222h1v1h-1zM607 222h1v1h-1zM608 222h1v1h-1zM609 222h1v1h-1zM610 222h1v1h-1zM611 222h1v1h-1zM612 221h1v1h-1zM612 222h1v1h-1zM613 221h1v1h-1zM614 222h1v1h-1zM614 224h1v1h-1zM615 225h1v1h-1zM616 225h1v1h-1zM617 225h1v1h-1zM618 226h1v1h-1zM619 226h1v1h-1zM620 226h1v1h-1zM620 227h1v1h-1zM621 227h1v1h-1zM622 228h1v1h-1zM623 228h1v1h-1z" fill="#0000ff" shape-rendering="crispEdges"/>
<path d="M53 237h1v1h-1zM53 238h1v1h-1zM54 238h1v1h-1zM54 239h1v1h-1zM55 239h1v1h-1zM56 239h1v1h-1zM56 240h1v1h-1zM57 239h1v1h-1zM58 238h1v1h-1zM58 239h1v1h-1zM59 237h1v1h-1zM59 238h1v1h-1zM60 236h1v1h-1zM60 237h1v1h-1zM61 236h1v1h-1zM62 235h1v1h-1zM63 235h1v1h-1zM64 235h1v1h-1zM65 235h1v1h-1zM66 235h1v1h-1zM67 235h1v1h-1zM68 235h1v1h-1zM69 235h1v1h-1zM70 235h1v1h-1zM71 235h1v1h-1zM72 235h1v1h-1zM73 234h1v1h-1zM73 235h1v1h-1zM74 233h1v1h-1zM75 230h1v1h-1zM75 231h1v1h-1zM76 228h1v1h-1zM76 229h1v1h-1zM77 214h1v1h-1zM77 222h1v1h-1zM77 226h1v1h-1zM78 202h1v1h-1zM78 207h1v1h-1zM79 185h1v1h-1zM79 191h1v1h-1zM79 198h1v1h-1zM80 173h1v1h-1zM80 178h1v1h-1zM81 170h1v1h-1zM81 171h1v1h-1zM82 170h1v1h-1zM83 170h1v1h-1zM84 168h1v1h-1zM84 169h1v1h-1zM85 159h1v1h-1zM85 164h1v1h-1zM86 148h1v1h-1zM86 153h1v1h-1zM86 156h1v1h-1zM87 135h1v1h-1zM87 141h1v1h-1zM88 127h1v1h-1zM88 129h1v1h-1zM88 131h1v1h-1zM89 125h1v1h-1zM89 126h1v1h-1zM90 122h1v1h-1zM90 123h1v1h-1zM90 124h1v1h-1zM91 120h1v1h-1zM91 121h1v1h-1zM92 119h1v1h-1zM92 120h1v1h-1zM93 118h1v1h-1zM94 118h1v1h-1zM95 118h1v1h-1zM96 118h1v1h-1zM96 119h1v1h-1zM97 119h1v1h-1zM97 120h1v1h-1zM98 120h1v1h-1zM99 120h1v1h-1zM100 121h1v1h-1zM101 121h1v1h-1zM101 122h1v1h-1zM102 123h1v1h-1zM102 124h1v1h-1zM103 124h1v1h-1zM103 125h1v1h-1zM104 125h1v1h-1zM104 126h1v1h-1zM105 126h1v1h-1zM105 127h1v1h-1zM106 127h1v1h-1zM106 128h1v1h-1zM107 129h1v1h-1zM107 130h1v1h-1zM108 131h1v1h-1zM108 132h1v1h-1zM108 133h1v1h-1zM109 134h1v1h-1zM109 135h1v1h-1zM109 136h1v1h-1zM110 137h1v1h-1zM110 138h1v1h-1zM111 139h1v1h-1zM111 140h1v1h-1zM111 141h1v1h-1zM112 142h1v1h-1zM112 143h1v1h-1zM113 145h1v1h-1zM113 146h1v1h-1zM113 147h1v1h-1zM114 147h1v1h-1zM114 148h1v1h-1zM115 149h1v1h-1zM115 150h1v1h-1zM116 151h1v1h-1zM117 151h1v1h-1zM117 152h1v1h-1zM118 153h1v1h-1zM119 154h1v1h-1zM119 155h1v1h-1zM120 155h1v1h-1zM120 156h1v1h-1zM121 156h1v1h-1zM121 157h1v1h-1zM122 157h1v1h-1zM122 158h1v1h-1zM123 158h1v1h-1zM123 159h1v1h-1zM124 160h1v1h-1zM125 161h1v1h-1zM125 162h1v1h-1zM126 163h1v1h-1zM127 164h1v1h-1zM127 165h1v1h-1zM128 166h1v1h-1zM128 167h1v1h-1zM129 168h1v1h-1zM129 169h1v1h-1zM129 170h1v1h-1zM130 170h1v1h-1zM130 171h1v1h-1zM131 172h1v1h-1zM131 173h1v1h-1zM131 174h1v1h-1zM132 175h1v1h-1zM133 176h1v1h-1zM133 177h1v1h-1zM134 177h1v1h-1zM134 178h1v1h-1zM135 179h1v1h-1zM136 179h1v1h-1zM136 180h1v1h-1zM137 180h1v1h-1zM137 181h1v1h-1zM138 181h1v1h-1zM139 182h1v1h-1zM139 183h1v1h-1zM140 183h1v1h-1zM140 184h1v1h-1zM140 185h1v1h-1zM141 185h1v1h-1zM141 186h1v1h-1zM142 187h1v1h-1zM142 188h1v1h-1zM143 188h1v1h-1zM143 189h1v1h-1zM144 189h1v1h-1zM144 190h1v1h-1zM145 191h1v1h-1zM146 191h1v1h-1zM146 192h1v1h-1zM147 192h1v1h-1zM148 192h1v1h-1zM148 193h1v1h-1zM149 195h1v1h-1zM149 196h1v1h-1zM150 197h1v1h-1zM150 198h1v1h-1zM150 199h1v1h-1zM151 200h1v1h-1zM151 201h1v1h-1zM152 202h1v1h-1zM152 203h1v1h-1zM153 204h1v1h-1zM153 205h1v1h-1zM154 206h1v1h-1zM155 207h1v1h-1zM156 208h1v1h-1zM157 209h1v1h-1zM158 209h1v1h-1zM158 210h1v1h-1zM159 210h1v1h-1zM160 211h1v1h-1zM160 216h1v1h-1zM160 233h1v1h-1zM188 312h1v1h-1zM188 439h1v1h-1zM189 229h1v1h-1zM189 230h1v1h-1zM189 270h1v1h-1zM190 229h1v1h-1zM191 228h1v1h-1zM192 228h1v1h-1zM193 228h1v1h-1zM194 228h1v1h-1zM195 227h1v1h-1zM195 228h1v1h-1zM196 227h1v1h-1zM197 227h1v1h-1zM198 228h1v1h-1zM199 228h1v1h-1zM200 228h1v1h-1zM201 228h1v1h-1zM202 228h1v1h-1zM203 228h1v1h-1zM203 229h1v1h-1zM204 229h1v1h-1zM205 230h1v1h-1zM206 230h1v1h-1zM206 231h1v1h-1zM207 231h1v1h-1zM208 231h1v1h-1zM209 231h1v1h-1zM210 230h1v1h-1zM210 231h1v1h-1zM211 230h1v1h-1zM212 228h1v1h-1zM212 229h1v1h-1zM213 228h1v1h-1zM214 227h1v1h-1zM215 226h1v1h-1zM216 225h1v1h-1zM216 226h1v1h-1zM217 224h1v1h-1zM217 225h1v1h-1zM218 224h1v1h-1zM219 223h1v1h-1zM220 222h1v1h-1zM221 220h1v1h-1zM221 221h1v1h-1zM222 217h1v1h-1zM222 219h1v1h-1zM223 211h1v1h-1zM223 213h1v1h-1zM223 215h1v1h-1zM224 207h1v1h-1zM224 209h1v1h-1zM225 201h1v1h-1zM225 203h1v1h-1zM225 205h1v1h-1zM226 198h1v1h-1zM226 200h1v1h-1zM227 193h1v1h-1zM227 194h1v1h-1zM227 196h1v1h-1zM228 190h1v1h-1zM228 191h1v1h-1zM229 186h1v1h-1zM229 187h1v1h-1zM229 188h1v1h-1zM230 184h1v1h-1zM230 185h1v1h-1zM231 183h1v1h-1zM231 184h1v1h-1zM232 182h1v1h-1zM232 183h1v1h-1zM233 182h1v1h-1zM234 182h1v1h-1zM235 182h1v1h-1zM236 182h1v1h-1zM237 182h1v1h-1zM238 183h1v1h-1zM239 183h1v1h-1zM240 183h1v1h-1zM240 184h1v1h-1zM241 184h1v1h-1zM242 184h1v1h-1zM242 185h1v1h-1zM243 185h1v1h-1zM244 186h1v1h-1zM245 186h1v1h-1zM245 187h1v1h-1zM246 187h1v1h-1zM247 188h1v1h-1zM248 188h1v1h-1zM248 189h1v1h-1zM249 189h1v1h-1zM250 190h1v1h-1zM250 191h1v1h-1zM251 191h1v1h-1zM252 192h1v1h-1zM252 193h1v1h-1zM253 193h1v1h-1zM254 194h1v1h-1zM255 194h1v1h-1zM255 195h1v1h-1zM256 195h1v1h-1zM257 195h1v1h-1zM258 195h1v1h-1zM259 195h1v1h-1zM260 195h1v1h-1zM260 196h1v1h-1zM261 196h1v1h-1zM261 197h1v1h-1zM262 197h1v1h-1zM262 198h1v1h-1zM263 199h1v1h-1zM263 200h1v1h-1zM264 200h1v1h-1zM264 201h1v1h-1zM264 202h1v1h-1zM265 202h1v1h-1zM265 203h1v1h-1zM266 203h1v1h-1zM266 204h1v1h-1zM267 204h1v1h-1zM268 204h1v1h-1zM268 205h1v1h-1zM269 205h1v1h-1zM270 206h1v1h-1zM270 207h1v1h-1zM271 207h1v1h-1zM272 208h1v1h-1zM273 209h1v1h-1zM274 209h1v1h-1zM274 210h1v1h-1zM275 210h1v1h-1zM275 211h1v1h-1zM275 212h1v1h-1zM276 209h1v1h-1zM276 210h1v1h-1zM277 202h1v1h-1zM277 205h1v1h-1zM277 207h1v1h-1zM278 190h1v1h-1zM278 199h1v1h-1zM279 170h1v1h-1zM279 177h1v1h-1zM279 183h1v1h-1zM280 161h1v1h-1zM280 165h1v1h-1zM281 159h1v1h-1zM281 160h1v1h-1zM282 160h1v1h-1zM283 162h1v1h-1zM283 164h1v1h-1zM283 166h1v1h-1zM284 168h1v1h-1zM284 170h1v1h-1zM285 173h1v1h-1zM285 176h1v1h-1zM285 178h1v1h-1zM286 181h1v1h-1zM286 183h1v1h-1zM287 185h1v1h-1zM287 187h1v1h-1zM287 189h1v1h-1zM288 191h1v1h-1zM288 193h1v1h-1zM289 194h1v1h-1zM289 195h1v1h-1zM289 196h1v1h-1zM290 198h1v1h-1zM290 199h1v1h-1zM291 200h1v1h-1zM291 201h1v1h-1zM291 203h1v1h-1zM292 204h1v1h-1zM292 206h1v1h-1zM293 207h1v1h-1zM293 208h1v1h-1zM293 209h1v1h-1zM294 210h1v1h-1zM294 211h1v1h-1zM295 212h1v1h-1zM295 213h1v1h-1zM295 214h1v1h-1zM296 215h1v1h-1zM296 216h1v1h-1zM297 217h1v1h-1zM297 218h1v1h-1zM297 219h1v1h-1zM298 219h1v1h-1zM298 220h1v1h-1zM299 220h1v1h-1zM299 221h1v1h-1zM300 222h1v1h-1zM301 223h1v1h-1zM301 224h1v1h-1zM302 224h1v1h-1zM302 225h1v1h-1zM303 225h1v1h-1zM303 226h1v1h-1zM304 227h1v1h-1zM304 228h1v1h-1zM305 228h1v1h-1zM305 229h1v1h-1zM306 229h1v1h-1zM306 230h1v1h-1zM307 230h1v1h-1zM307 231h1v1h-1zM308 231h1v1h-1zM308 232h1v1h-1zM309 232h1v1h-1zM310 233h1v1h-1zM311 233h1v1h-1zM312 232h1v1h-1zM312 233h1v1h-1zM313 232h1v1h-1zM314 232h1v1h-1zM314 234h1v1h-1zM314 235h1v1h-1zM315 235h1v1h-1zM316 235h1v1h-1zM317 234h1v1h-1zM317 235h1v1h-1zM318 232h1v1h-1zM318 233h1v1h-1zM319 231h1v1h-1zM319 232h1v1h-1zM320 234h1v1h-1zM320 235h1v1h-1zM321 235h1v1h-1zM321 236h1v1h-1zM322 236h1v1h-1zM323 236h1v1h-1zM324 236h1v1h-1zM325 236h1v1h-1zM326 236h1v1h-1zM327 236h1v1h-1zM328 233h1v1h-1zM328 236h1v1h-1zM329 231h1v1h-1zM330 230h1v1h-1zM330 231h1v1h-1zM331 230h1v1h-1zM332 228h1v1h-1zM332 229h1v1h-1zM333 225h1v1h-1zM333 226h1v1h-1zM333 227h1v1h-1zM334 224h1v1h-1zM335 222h1v1h-1zM335 223h1v1h-1zM336 223h1v1h-1zM337 224h1v1h-1zM338 224h1v1h-1zM339 224h1v1h-1zM340 224h1v1h-1zM341 224h1v1h-1zM341 225h1v1h-1zM342 225h1v1h-1zM343 225h1v1h-1zM344 225h1v1h-1zM345 223h1v1h-1zM345 224h1v1h-1zM346 221h1v1h-1zM346 222h1v1h-1zM347 217h1v1h-1zM347 219h1v1h-1zM347 220h1v1h-1zM348 214h1v1h-1zM348 216h1v1h-1zM349 211h1v1h-1zM349 212h1v1h-1zM349 213h1v1h-1zM350 210h1v1h-1zM350 211h1v1h-1zM351 208h1v1h-1zM351 209h1v1h-1zM352 208h1v1h-1zM353 209h1v1h-1zM354 210h1v1h-1zM354 211h1v1h-1zM355 212h1v1h-1zM355 213h1v1h-1zM356 214h1v1h-1zM356 215h1v1h-1zM357 216h1v1h-1zM357 217h1v1h-1zM358 218h1v1h-1zM358 219h1v1h-1zM359 220h1v1h-1zM359 221h1v1h-1zM359 222h1v1h-1zM360 223h1v1h-1zM360 224h1v1h-1zM360 225h1v1h-1zM361 225h1v1h-1zM361 226h1v1h-1zM362 226h1v1h-1zM362 227h1v1h-1zM363 228h1v1h-1zM364 228h1v1h-1zM365 229h1v1h-1zM366 229h1v1h-1zM367 229h1v1h-1zM367 230h1v1h-1zM368 230h1v1h-1zM368 231h1v1h-1zM369 231h1v1h-1zM370 232h1v1h-1zM371 232h1v1h-1zM371 233h1v1h-1zM372 232h1v1h-1zM372 233h1v1h-1zM373 231h1v1h-1zM373 232h1v1h-1zM374 230h1v1h-1zM374 231h1v1h-1zM375 230h1v1h-1zM376 228h1v1h-1zM376 229h1v1h-1zM377 227h1v1h-1zM377 228h1v1h-1zM378 226h1v1h-1zM378 227h1v1h-1zM379 224h1v1h-1zM379 225h1v1h-1zM380 220h1v1h-1zM380 221h1v1h-1zM380 223h1v1h-1zM381 216h1v1h-1zM381 218h1v1h-1zM382 216h1v1h-1zM383 215h1v1h-1zM384 215h1v1h-1zM385 215h1v1h-1zM386 215h1v1h-1zM387 215h1v1h-1zM388 215h1v1h-1zM389 214h1v1h-1zM389 215h1v1h-1zM390 214h1v1h-1zM391 212h1v1h-1zM391 213h1v1h-1zM392 211h1v1h-1zM392 212h1v1h-1zM393 209h1v1h-1zM393 210h1v1h-1zM393 211h1v1h-1zM394 208h1v1h-1zM394 209h1v1h-1zM395 205h1v1h-1zM395 206h1v1h-1zM395 207h1v1h-1zM396 203h1v1h-1zM396 204h1v1h-1zM397 200h1v1h-1zM397 201h1v1h-1zM397 202h1v1h-1zM398 198h1v1h-1zM398 199h1v1h-1zM399 195h1v1h-1zM399 196h1v1h-1zM399 197h1v1h-1zM400 193h1v1h-1zM400 194h1v1h-1zM401 190h1v1h-1zM401 191h1v1h-1zM401 192h1v1h-1zM402 188h1v1h-1zM402 189h1v1h-1zM403 185h1v1h-1zM403 186h1v1h-1zM403 187h1v1h-1zM404 184h1v1h-1zM404 185h1v1h-1zM405 181h1v1h-1zM405 182h1v1h-1zM405 183h1v1h-1zM406 180h1v1h-1zM406 181h1v1h-1zM407 179h1v1h-1zM407 180h1v1h-1zM408 178h1v1h-1zM409 176h1v1h-1zM409 177h1v1h-1zM410 175h1v1h-1zM410 176h1v1h-1zM411 174h1v1h-1zM411 175h1v1h-1zM412 172h1v1h-1zM412 173h1v1h-1zM413 171h1v1h-1zM413 172h1v1h-1zM414 170h1v1h-1zM414 171h1v1h-1zM415 169h1v1h-1zM415 170h1v1h-1zM416 168h1v1h-1zM416 169h1v1h-1zM417 167h1v1h-1zM417 168h1v1h-1zM418 167h1v1h-1zM419 167h1v1h-1zM420 166h1v1h-1zM421 166h1v1h-1zM422 166h1v1h-1zM423 166h1v1h-1zM424 166h1v1h-1zM424 167h1v1h-1zM425 167h1v1h-1zM426 167h1v1h-1zM427 167h1v1h-1zM428 167h1v1h-1zM429 167h1v1h-1zM430 167h1v1h-1zM431 167h1v1h-1zM432 167h1v1h-1zM432 168h1v1h-1zM433 168h1v1h-1zM434 168h1v1h-1zM434 169h1v1h-1zM435 169h1v1h-1zM436 169h1v1h-1zM436 170h1v1h-1zM437 170h1v1h-1zM437 171h1v1h-1zM438 171h1v1h-1zM439 172h1v1h-1zM440 172h1v1h-1zM440 173h1v1h-1zM441 173h1v1h-1zM442 173h1v1h-1zM442 174h1v1h-1zM443 174h1v1h-1zM443 175h1v1h-1zM444 175h1v1h-1zM444 176h1v1h-1zM445 176h1v1h-1zM446 177h1v1h-1zM447 178h1v1h-1zM448 179h1v1h-1zM449 179h1v1h-1zM449 180h1v1h-1zM450 180h1v1h-1zM450 181h1v1h-1zM451 181h1v1h-1zM452 182h1v1h-1zM453 182h1v1h-1zM454 182h1v1h-1zM455 182h1v1h-1zM456 181h1v1h-1zM457 185h1v1h-1zM458 185h1v1h-1zM459 186h1v1h-1zM460 186h1v1h-1zM460 187h1v1h-1zM461 187h1v1h-1zM462 188h1v1h-1zM463 188h1v1h-1zM463 189h1v1h-1zM464 189h1v1h-1zM465 189h1v1h-1zM466 189h1v1h-1zM467 187h1v1h-1zM467 188h1v1h-1zM468 187h1v1h-1zM469 186h1v1h-1zM469 187h1v1h-1zM470 188h1v1h-1zM471 188h1v1h-1zM471 189h1v1h-1zM472 189h1v1h-1zM473 189h1v1h-1zM473 190h1v1h-1zM474 190h1v1h-1zM475 190h1v1h-1zM476 189h1v1h-1zM476 190h1v1h-1zM477 189h1v1h-1zM478 189h1v1h-1zM478 190h1v1h-1zM479 190h1v1h-1zM479 191h1v1h-1zM480 191h1v1h-1zM480 192h1v1h-1zM481 193h1v1h-1zM482 193h1v1h-1zM482 194h1v1h-1zM483 195h1v1h-1zM484 195h1v1h-1zM484 196h1v1h-1zM485 196h1v1h-1zM485 197h1v1h-1zM486 197h1v1h-1zM487 197h1v1h-1zM487 198h1v1h-1zM488 198h1v1h-1zM489 198h1v1h-1zM490 198h1v1h-1zM491 198h1v1h-1zM492 197h1v1h-1zM493 198h1v1h-1zM494 198h1v1h-1zM494 199h1v1h-1zM495 199h1v1h-1zM496 199h1v1h-1zM496 200h1v1h-1zM497 200h1v1h-1zM498 200h1v1h-1zM498 201h1v1h-1zM499 201h1v1h-1zM500 202h1v1h-1zM501 202h1v1h-1zM502 203h1v1h-1zM503 203h1v1h-1zM504 202h1v1h-1zM504 203h1v1h-1zM505 201h1v1h-1zM505 202h1v1h-1zM506 202h1v1h-1zM507 203h1v1h-1zM507 204h1v1h-1zM508 205h1v1h-1zM509 205h1v1h-1zM509 206h1v1h-1zM510 206h1v1h-1zM510 207h1v1h-1zM511 207h1v1h-1zM511 208h1v1h-1zM512 208h1v1h-1zM513 208h1v1h-1zM513 209h1v1h-1zM514 209h1v1h-1zM515 209h1v1h-1zM515 210h1v1h-1zM516 210h1v1h-1zM517 210h1v1h-1zM518 210h1v1h-1zM518 211h1v1h-1zM519 211h1v1h-1zM520 211h1v1h-1zM521 212h1v1h-1zM522 212h1v1h-1zM523 213h1v1h-1zM524 212h1v1h-1zM524 213h1v1h-1zM525 212h1v1h-1zM526 212h1v1h-1zM527 211h1v1h-1zM527 212h1v1h-1zM528 211h1v1h-1zM529 211h1v1h-1zM530 211h1v1h-1zM530 212h1v1h-1zM531 212h1v1h-1zM532 212h1v1h-1zM532 213h1v1h-1zM533 213h1v1h-1zM534 213h1v1h-1zM534 214h1v1h-1zM535 214h1v1h-1zM536 214h1v1h-1zM537 214h1v1h-1zM537 215h1v1h-1zM538 215h1v1h-1zM539 215h1v1h-1zM540 215h1v1h-1zM540 216h1v1h-1zM541 216h1v1h-1zM542 216h1v1h-1zM543 216h1v1h-1zM543 217h1v1h-1zM544 217h1v1h-1zM545 217h1v1h-1zM546 218h1v1h-1zM547 218h1v1h-1zM548 219h1v1h-1zM549 219h1v1h-1zM550 219h1v1h-1zM550 220h1v1h-1zM551 220h1v1h-1zM552 220h1v1h-1zM553 220h1v1h-1zM553 221h1v1h-1zM554 221h1v1h-1zM555 221h1v1h-1zM556 221h1v1h-1zM557 221h1v1h-1zM558 221h1v1h-1zM559 221h1v1h-1zM560 219h1v1h-1zM560 221h1v1h-1zM561 217h1v1h-1zM561 218h1v1h-1zM562 216h1v1h-1zM563 216h1v1h-1zM563 217h1v1h-1zM563 218h1v1h-1zM564 218h1v1h-1zM565 218h1v1h-1zM565 219h1v1h-1zM566 219h1v1h-1zM567 219h1v1h-1zM567 220h1v1h-1zM568 220h1v1h-1zM569 220h1v1h-1zM569 221h1v1h-1zM570 221h1v1h-1zM571 221h1v1h-1zM572 222h1v1h-1zM573 222h1v1h-1zM574 222h1v1h-1zM575 222h1v1h-1zM575 223h1v1h-1zM576 223h1v1h-1zM577 223h1v1h-1zM577 224h1v1h-1zM578 224h1v1h-1zM579 224h1v1h-1zM580 225h1v1h-1zM581 225h1v1h-1zM582 225h1v1h-1zM583 226h1v1h-1zM584 226h1v1h-1zM585 226h1v1h-1zM586 226h1v1h-1zM587 226h1v1h-1zM588 226h1v1h-1zM589 226h1v1h-1zM590 226h1v1h-1zM591 226h1v1h-1zM592 227h1v1h-1zM593 227h1v1h-1zM594 227h1v1h-1zM595 228h1v1h-1zM596 228h1v1h-1zM597 228h1v1h-1zM598 228h1v1h-1zM598 229h1v1h-1zM599 229h1v1h-1zM600 229h1v1h-1zM601 229h1v1h-1zM602 229h1v1h-1zM603 229h1v1h-1zM604 229h1v1h-1zM605 229h1v1h-1zM606 229h1v1h-1zM606 230h1v1h-1zM607 230h1v1h-1zM608 230h1v1h-1zM609 230h1v1h-1zM610 230h1v1h-1zM611 230h1v1h-1zM612 229h1v1h-1zM612 230h1v1h-1zM613 228h1v1h-1zM614 229h1v1h-1zM614 230h1v1h-1zM615 230h1v1h-1zM615 231h1v1h-1zM616 231h1v1h-1zM617 231h1v1h-1zM618 231h1v1h-1zM618 232h1v1h-1zM619 232h1v1h-1zM620 232h1v1h-1zM621 232h1v1h-1zM622 233h1v1h-1zM623 233h1v1h-1z" fill="#ff0000" shape-rendering="crispEdges"/>
<g filter="url(#k)">
<text x="156.95" y="19.60" font-size="12.00" textLength="31.60" lengthAdjust="spacingAndGlyphs">GOES</text>
<text x="196.45" y="19.60" font-size="12.00" textLength="69.00" lengthAdjust="spacing">0.1&#8212;0.8nm</text>
<text x="270.60" y="19.60" font-size="12.00" textLength="35.20" lengthAdjust="spacing">(red),</text>
<text x="311.80" y="19.60" font-size="12.00" textLength="29.40" lengthAdjust="spacingAndGlyphs">LYRA</text>
<text x="345.95" y="19.60" font-size="12.00" textLength="12.00" lengthAdjust="spacing">Al</text>
<text x="363.22" y="19.60" font-size="12.00" textLength="35.80" lengthAdjust="spacing">(blue)</text>
<text x="405.88" y="19.60" font-size="12.00" textLength="9.60" lengthAdjust="spacingAndGlyphs">&amp;</text>
<text x="424.23" y="19.60" font-size="12.00" textLength="12.00" lengthAdjust="spacing">Zr</text>
<text x="443.27" y="19.60" font-size="12.00" textLength="36.20" lengthAdjust="spacing">(grey)</text>
<text x="486.02" y="19.60" font-size="12.00" textLength="32.20" lengthAdjust="spacing">proxy</text>
<text x="266.02" y="470.60" font-size="11.00" textLength="22.40" lengthAdjust="spacingAndGlyphs">Time</text>
<text x="306.12" y="470.60" font-size="11.00" textLength="6.40" lengthAdjust="spacingAndGlyphs">h</text>
<text x="317.27" y="470.60" font-size="11.00" textLength="21.80" lengthAdjust="spacingAndGlyphs">UTC,</text>
<text x="344.20" y="470.60" font-size="11.00" textLength="12.00" lengthAdjust="spacingAndGlyphs">20</text>
<text x="362.43" y="470.60" font-size="11.00" textLength="16.80" lengthAdjust="spacingAndGlyphs">Mar</text>
<text x="384.32" y="470.60" font-size="11.00" textLength="25.20" lengthAdjust="spacing">2023</text>
<text x="488.12" y="494.50" font-size="10.60" textLength="55.40" lengthAdjust="spacing">ROB/SIDC,</text>
<text x="549.07" y="494.50" font-size="10.60" textLength="46.80" lengthAdjust="spacing">Brussels,</text>
<text x="600.73" y="494.50" font-size="10.60" textLength="42.00" lengthAdjust="spacing">Belgium</text>
<text x="48.02" y="457.90" font-size="10.30" textLength="7.20" lengthAdjust="spacingAndGlyphs">0</text>
<text x="167.95" y="457.90" font-size="10.30" textLength="5.60" lengthAdjust="spacingAndGlyphs">5</text>
<text x="284.72" y="457.90" font-size="10.30" textLength="12.00" lengthAdjust="spacing">10</text>
<text x="403.72" y="457.90" font-size="10.30" textLength="13.00" lengthAdjust="spacing">15</text>
<text x="522.20" y="457.90" font-size="10.30" textLength="13.20" lengthAdjust="spacing">20</text>
<text x="631.65" y="80.10" font-size="11.00" textLength="7.20" lengthAdjust="spacingAndGlyphs">M</text>
<text x="631.65" y="185.10" font-size="11.00" textLength="7.00" lengthAdjust="spacingAndGlyphs">C</text>
<text x="631.02" y="290.10" font-size="11.00" textLength="7.00" lengthAdjust="spacingAndGlyphs">B</text>
<text x="630.47" y="395.10" font-size="11.00" textLength="6.40" lengthAdjust="spacingAndGlyphs">A</text>
</g>
<g filter="url(#k3)"><text transform="translate(294,473) skewX(-16)" font-size="15.5">/</text></g>
<g filter="url(#k2)">
<text x="33.32" y="30.00" font-size="8.40" textLength="8.80" lengthAdjust="spacingAndGlyphs">10</text>
<text x="33.32" y="133.00" font-size="8.40" textLength="8.80" lengthAdjust="spacingAndGlyphs">10</text>
<text x="33.32" y="238.00" font-size="8.40" textLength="8.80" lengthAdjust="spacingAndGlyphs">10</text>
<text x="33.32" y="343.00" font-size="8.40" textLength="8.80" lengthAdjust="spacingAndGlyphs">10</text>
<text x="33.32" y="445.00" font-size="8.40" textLength="8.80" lengthAdjust="spacingAndGlyphs">10</text>
<text x="42.9" y="26.3" font-size="6" textLength="7" lengthAdjust="spacingAndGlyphs">&#8211;4</text>
<text x="42.9" y="129.3" font-size="6" textLength="7" lengthAdjust="spacingAndGlyphs">&#8211;5</text>
<text x="42.9" y="234.3" font-size="6" textLength="7" lengthAdjust="spacingAndGlyphs">&#8211;6</text>
<text x="42.9" y="339.3" font-size="6" textLength="7" lengthAdjust="spacingAndGlyphs">&#8211;7</text>
<text x="42.9" y="441.3" font-size="6" textLength="7" lengthAdjust="spacingAndGlyphs">&#8211;8</text>
<text transform="translate(26.0,288.46) rotate(-90)" font-size="8.6" textLength="18.78" lengthAdjust="spacingAndGlyphs">GOES</text>
<text transform="translate(26.0,265.84) rotate(-90)" font-size="8.6" textLength="40.34" lengthAdjust="spacingAndGlyphs">Irradiance</text>
<text transform="translate(26,222) rotate(-90) skewX(-35)" font-size="9.5">/</text>
<text transform="translate(26.0,211.82) rotate(-90)" font-size="8.6" textLength="9.96" lengthAdjust="spacingAndGlyphs">(W</text>
<text transform="translate(26.0,198.16) rotate(-90)" font-size="8.6" textLength="6.82" lengthAdjust="spacingAndGlyphs">m</text>
<text transform="translate(22.0,190.82) rotate(-90)" font-size="5.5" textLength="7.46" lengthAdjust="spacingAndGlyphs">&#8211;2</text>
<text transform="translate(26.0,182.64) rotate(-90)" font-size="8.6" textLength="1.94" lengthAdjust="spacingAndGlyphs">)</text>
</g>
</svg></body></html>
